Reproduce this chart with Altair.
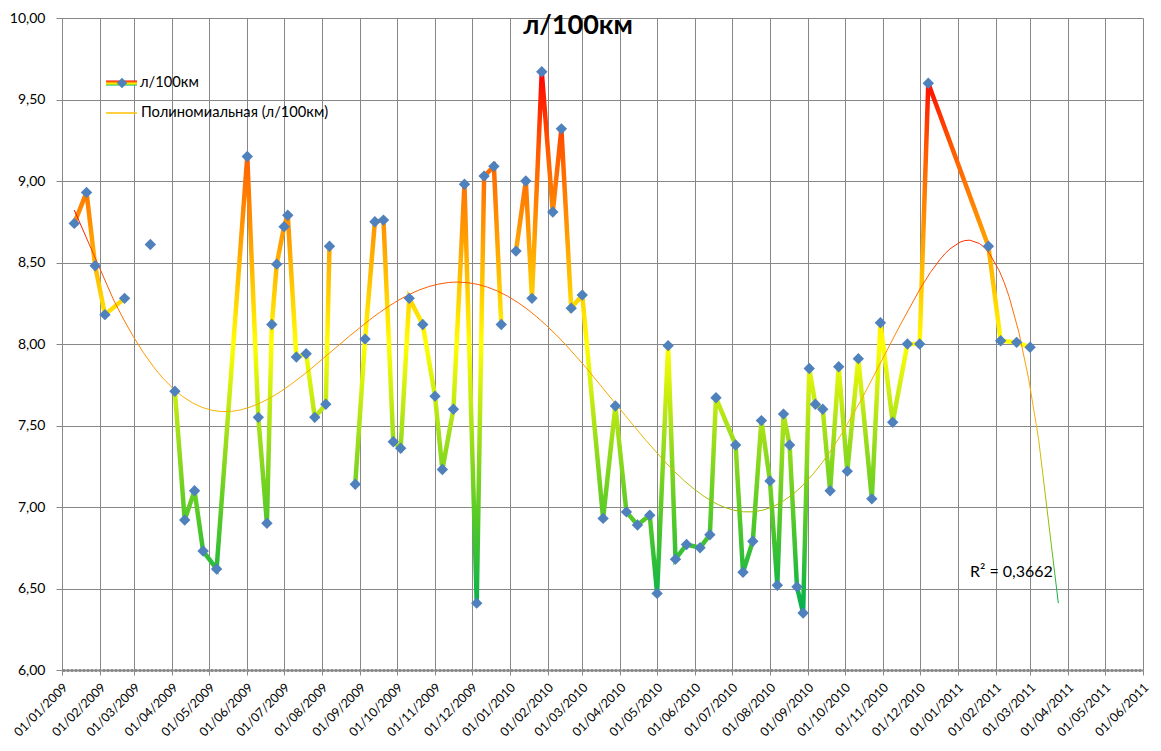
import altair as alt
import pandas as pd

# ---------------- data ----------------
DATES = [
    "2009-01-11", "2009-01-21", "2009-01-28", "2009-02-05", "2009-02-21",
    "2009-03-01", "2009-03-14", "2009-03-24",
    "2009-04-03", "2009-04-11", "2009-04-19", "2009-04-26", "2009-05-07",
    "2009-06-01", "2009-06-10", "2009-06-17", "2009-06-21", "2009-06-25",
    "2009-07-01", "2009-07-04", "2009-07-11", "2009-07-19", "2009-07-26",
    "2009-08-04", "2009-08-07", "2009-08-17",
    "2009-08-28", "2009-09-05", "2009-09-13", "2009-09-20", "2009-09-28",
    "2009-10-04", "2009-10-11", "2009-10-22", "2009-11-01", "2009-11-07",
    "2009-11-16", "2009-11-25", "2009-12-05", "2009-12-11", "2009-12-19",
    "2009-12-25", "2009-12-31",
    "2010-01-06", "2010-01-14", "2010-01-19", "2010-01-27", "2010-02-05",
    "2010-02-12", "2010-02-20", "2010-03-01", "2010-03-18", "2010-03-28",
    "2010-04-06", "2010-04-15", "2010-04-25", "2010-05-01", "2010-05-10",
    "2010-05-16", "2010-05-25", "2010-06-05", "2010-06-13", "2010-06-18",
    "2010-07-04", "2010-07-10", "2010-07-18", "2010-07-25", "2010-08-01",
    "2010-08-07", "2010-08-12", "2010-08-17", "2010-08-23", "2010-08-28",
    "2010-09-02", "2010-09-07", "2010-09-13", "2010-09-19", "2010-09-26",
    "2010-10-03", "2010-10-12", "2010-10-23", "2010-10-30", "2010-11-09",
    "2010-11-21", "2010-12-01", "2010-12-08",
    "2011-01-26", "2011-02-05", "2011-02-18", "2011-03-01",
]
VALUES = [
    8.74, 8.93, 8.48, 8.18, 8.28,
    None, 8.61, None,
    7.71, 6.92, 7.10, 6.73, 6.62,
    9.15, 7.55, 6.90, 8.12, 8.49,
    8.72, 8.79, 7.92, 7.94, 7.55,
    7.63, 8.60, None,
    7.14, 8.03, 8.75, 8.76, 7.40,
    7.36, 8.28, 8.12, 7.68, 7.23,
    7.60, 8.98, 6.41, 9.03, 9.09,
    8.12, None,
    8.57, 9.00, 8.28, 9.67, 8.81,
    9.32, 8.22, 8.30, 6.93, 7.62,
    6.97, 6.89, 6.95, 6.47, 7.99,
    6.68, 6.77, 6.75, 6.83, 7.67,
    7.38, 6.60, 6.79, 7.53, 7.16,
    6.52, 7.57, 7.38, 6.51, 6.35,
    7.85, 7.63, 7.60, 7.10, 7.86,
    7.22, 7.91, 7.05, 8.13, 7.52,
    8.00, 8.00, 9.60,
    8.60, 8.02, 8.01, 7.98,
]

TICK_MONTHS = [(2009, m) for m in range(1, 13)] + [(2010, m) for m in range(1, 13)] + [(2011, m) for m in range(1, 7)]
Y_TICKS = [6.0, 6.5, 7.0, 7.5, 8.0, 8.5, 9.0, 9.5, 10.0]

TITLE = "л/100км"
LEGEND_SERIES = "л/100км"
LEGEND_TREND = "Полиномиальная (л/100км)"
R2_TEXT = "R² = 0,3662"

TREND_ORIGIN = "2009-01-01"
TREND_START = "2009-01-11"
TREND_END = "2011-03-24"
TREND_ORDER = 6

# ---------------- styles ----------------
FONT = "Lato"
GRID = "#878787"
POINT_COLOR = "#4f81bd"
LINE_STOPS = [
    (0.0, "#00b050"), (0.166, "#50c828"), (0.316, "#99dd1a"), (0.407, "#ccee10"),
    (0.497, "#ffff00"), (0.587, "#ffd000"), (0.723, "#ff9000"), (0.858, "#ff5a00"),
    (1.0, "#ff0000"),
]
TREND_STOPS = [
    (0.0, "#00b050"), (0.17, "#80c000"), (0.45, "#f0b800"), (0.6, "#ffa000"),
    (0.8, "#ff5a00"), (0.92, "#ff3000"), (1.0, "#ff0000"),
]


def vgrad(stops):
    return alt.LinearGradient(
        gradient="linear",
        stops=[alt.GradientStop(offset=o, color=c) for o, c in stops],
        x1=0, x2=0, y1=1, y2=0,
    )


df = pd.DataFrame({"date": DATES, "value": VALUES})
one = pd.DataFrame({"k": [0]})

origin = pd.Timestamp(TREND_ORIGIN)
t0 = (pd.Timestamp(TREND_START) - origin).days / 365.0
t1 = (pd.Timestamp(TREND_END) - origin).days / 365.0
YEAR_MS = 365 * 86400000

x_scale = alt.Scale(
    type="utc",
    domain=[alt.DateTime(year=2009, month=1, date=1, utc=True),
            alt.DateTime(year=2011, month=6, date=1, utc=True)],
    nice=False,
)
x_axis = alt.Axis(
    values=[alt.DateTime(year=y, month=m, date=1, utc=True) for y, m in TICK_MONTHS],
    format="%d/%m/%Y", labelAngle=315, labelAlign="right", labelBaseline="middle",
    labelPadding=10, labelOffset=3, tickSize=5, tickColor=GRID, labelFont=FONT,
    labelFontSize=12.5, labelColor="#000000", grid=True, gridColor=GRID, gridWidth=1,
    gridOpacity=1, domainColor="#8c8c8c", domainWidth=3, domainDash=[3, 1], title=None,
    labelOverlap=False, labelFlush=False, labelBound=False,
)
y_scale = alt.Scale(domain=[6, 10], nice=False, zero=False)
y_axis = alt.Axis(
    values=Y_TICKS, labelExpr="replace(format(datum.value, '.2f'), '.', ',')",
    grid=True, gridColor=GRID, gridWidth=1, gridOpacity=1, tickSize=6, tickColor=GRID,
    labelPadding=11, labelFont=FONT, labelFontSize=14, labelColor="#000000",
    domainColor=GRID, title=None, labelOverlap=False,
)

X = alt.X("date:T", scale=x_scale, axis=x_axis)
Y = alt.Y("value:Q", scale=y_scale, axis=y_axis)

line = alt.Chart(df).mark_line(
    color=vgrad(LINE_STOPS), strokeWidth=4.5, invalid="break-paths-filter-domains"
).encode(x=X, y=Y)

points = alt.Chart(df).mark_point(
    shape="diamond", filled=True, color=POINT_COLOR, size=130, opacity=1
).encode(x=X, y=Y)

trend = (
    alt.Chart(df)
    .transform_filter("isValid(datum.value)")
    .transform_calculate(t=f"(+toDate(datum.date) - utc(2009,0,1)) / {YEAR_MS}")
    .transform_regression("t", "value", method="poly", order=TREND_ORDER, extent=[t0, t1])
    .transform_calculate(date=f"utc(2009,0,1) + datum.t * {YEAR_MS}")
    .mark_line(color=vgrad(TREND_STOPS), strokeWidth=1)
    .encode(x=X, y=Y)
)

leg_rect = alt.Chart(one).mark_rect(fill=vgrad([(0, "#00b050"), (0.33, "#ffff00"), (0.66, "#ff9000"), (1, "#ff0000")])).encode(
    x=alt.value(44), x2=alt.value(75), y=alt.value(62.5), y2=alt.value(67.5)
)
leg_pt = alt.Chart(one).mark_point(
    shape="diamond", filled=True, color=POINT_COLOR, size=110, opacity=1
).encode(x=alt.value(60), y=alt.value(65))
leg_txt1 = alt.Chart(one).mark_text(
    text=LEGEND_SERIES, align="left", baseline="middle", font=FONT, fontSize=14.7, color="#000000"
).encode(x=alt.value(78), y=alt.value(65))
leg_rule = alt.Chart(one).mark_rule(color="#ffc000", strokeWidth=1.5).encode(
    x=alt.value(44), x2=alt.value(75), y=alt.value(95)
)
leg_txt2 = alt.Chart(one).mark_text(
    text=LEGEND_TREND, align="left", baseline="middle", font=FONT, fontSize=14.7, color="#000000"
).encode(x=alt.value(79), y=alt.value(95))

title = alt.Chart(one).mark_text(
    text=TITLE, align="center", baseline="alphabetic", font=FONT, fontSize=27,
    fontWeight="bold", color="#000000"
).encode(x=alt.value(516), y=alt.value(16))

r2 = alt.Chart(one).mark_text(
    text=R2_TEXT, align="left", baseline="alphabetic", font=FONT, fontSize=16, color="#000000"
).encode(x=alt.value(908), y=alt.value(559))

chart = alt.layer(
    line, trend, points, leg_rect, leg_pt, leg_txt1, leg_rule, leg_txt2, title, r2
).properties(
    width=1081, height=652,
    autosize=alt.AutoSizeParams(type="none"),
    padding={"left": 54, "top": 10, "right": 10, "bottom": 72},
    background="white",
).configure_view(strokeWidth=0)

chart.save("out.html", embed_options={"renderer": "svg", "actions": False})
